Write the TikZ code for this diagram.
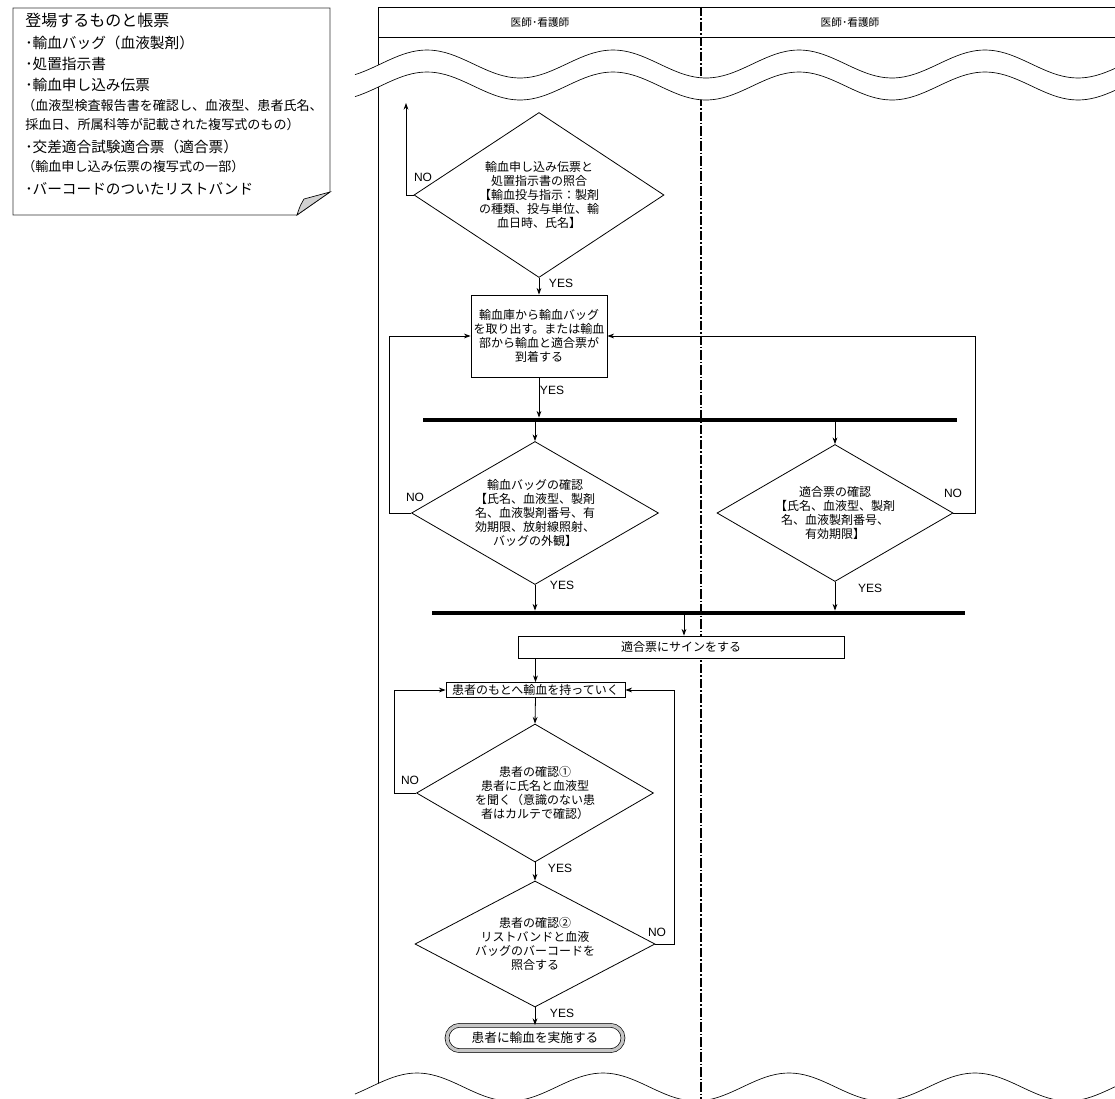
\documentclass[tikz,border=0pt]{standalone}
\usepackage{fontspec}
\setmainfont{Noto Sans CJK JP}
\newfontfamily\latinfont{Liberation Sans}
\usepackage{tikz}
\usetikzlibrary{arrows.meta,positioning,shapes.geometric,shapes.misc}

\tikzset{
  arr/.style={-{Stealth[length=5pt,width=3.6pt]}, line width=0.6pt},
  stepbox/.style={draw, line width=0.6pt, fill=white, align=center, inner sep=1pt,
    font=\fontsize{9pt}{10.5pt}\selectfont},
  check/.style={diamond, aspect=1.7, draw, line width=0.6pt, fill=white, align=center,
    inner sep=0pt, font=\fontsize{9pt}{10.5pt}\selectfont},
  bar/.style={fill=black, inner sep=0pt, minimum height=3.2pt},
  yesno/.style={inner sep=0pt, font=\latinfont\fontsize{9pt}{10pt}\selectfont},
  lane/.style={inner sep=0pt, font=\fontsize{8pt}{8pt}\selectfont},
  bigitem/.style={anchor=west, inner sep=0pt, font=\fontsize{11pt}{12pt}\selectfont},
  smallitem/.style={anchor=west, inner sep=0pt, font=\fontsize{9.8pt}{10pt}\selectfont},
}

\begin{document}
\begin{tikzpicture}[x=0.75pt, y=-0.75pt]
  \useasboundingbox (0,0) rectangle (1115,1099);

  % note with the things and forms
  \draw[line width=0.6pt, draw=black!80] (13,8) -- (330,8) -- (330,192) -- (297,215) -- (13,215) -- cycle;
  \filldraw[line width=0.5pt, fill=gray!35] (297,215) .. controls (300,206) .. (304,199) -- (330,192) -- cycle;
  \node[bigitem, font=\fontsize{12pt}{12pt}\selectfont] (title) at (25,20) {登場するものと帳票};
  \node[bigitem] (item1) at (25,43) {･輸血バッグ（血液製剤）};
  \node[bigitem] (item2) at (25,64) {･処置指示書};
  \node[bigitem] (item3) at (25,85) {･輸血申し込み伝票};
  \node[smallitem] (item3a) at (22,106) {（血液型検査報告書を確認し、血液型、患者氏名、};
  \node[smallitem] (item3b) at (25,125) {採血日、所属科等が記載された複写式のもの）};
  \node[bigitem] (item4) at (25,147) {･交差適合試験適合票（適合票）};
  \node[smallitem] (item4a) at (22,167) {（輸血申し込み伝票の複写式の一部）};
  \node[bigitem] (item5) at (25,189) {･バーコードのついたリストバンド};

  % swimlanes
  \draw[line width=0.6pt] (1115,7) -- (378,7) -- (378,1100);
  \draw[line width=0.6pt] (378,37) -- (1115,37);
  \draw[line width=1.2pt, dash pattern=on 7pt off 1.5pt on 1.2pt off 1.5pt] (701,7) -- (701,1100);
  \node[lane] (lane1) at (540,22) {医師･看護師};
  \node[lane] (lane2) at (850,22) {医師･看護師};

  % breaks
  \fill[white] plot[domain=355:1115, samples=160] (\x,{64-14*cos((\x-427)*1.935484)})
    -- plot[domain=1115:355, samples=160] (\x,{86-14*cos((\x-427)*1.935484)}) -- cycle;
  \draw[line width=0.5pt] plot[domain=355:1115, samples=160] (\x,{64-14*cos((\x-427)*1.935484)});
  \draw[line width=0.5pt] plot[domain=355:1115, samples=160] (\x,{86-14*cos((\x-427)*1.935484)});
  \fill[white] plot[domain=355:1115, samples=160] (\x,{1087-14*cos((\x-417)*1.935484)})
    -- (1115,1110) -- (355,1110) -- cycle;
  \draw[line width=0.5pt] plot[domain=355:1115, samples=160] (\x,{1087-14*cos((\x-417)*1.935484)});

  % flow
  \node[check, minimum width=187.5pt, minimum height=123.75pt] (d1) at (539,195)
    {輸血申し込み伝票と\\処置指示書の照合\\【輸血投与指示：製剤\\の種類、投与単位、輸\\血日時、氏名】};
  \node[stepbox, minimum width=102pt, minimum height=61.5pt] (b1) at (539,336)
    {輸血庫から輸血バッグ\\を取り出す。または輸血\\部から輸血と適合票が\\到着する};
  \node[bar, minimum width=400.5pt] (bar1) at (690,420) {};
  \node[check, minimum width=185.25pt, minimum height=107.25pt] (d2) at (535,513)
    {輸血バッグの確認\\【氏名、血液型、製剤\\名、血液製剤番号、有\\効期限、放射線照射、\\バッグの外観】};
  \node[check, minimum width=177pt, minimum height=102.75pt] (d3) at (835,513)
    {適合票の確認\\【氏名、血液型、製剤\\名、血液製剤番号、\\有効期限】};
  \node[bar, minimum width=399.75pt] (bar2) at (698.5,613) {};
  \node[stepbox, minimum width=244.5pt, minimum height=16.5pt] (b2) at (681,647) {適合票にサインをする};
  \node[stepbox, minimum width=134.25pt, minimum height=11.25pt] (b3) at (535.5,690) {患者のもとへ輸血を持っていく};
  \node[check, minimum width=177.75pt, minimum height=103.5pt] (d4) at (535,793)
    {患者の確認①\\患者に氏名と血液型\\を聞く（意識のない患\\者はカルテで確認）};
  \node[check, minimum width=180pt, minimum height=94.5pt] (d5) at (535,944)
    {患者の確認②\\リストバンドと血液\\バッグのバーコードを\\照合する};
  \node[rounded rectangle, draw, line width=0.5pt, double=gray!45, double distance=2.4pt,
    minimum width=134pt, minimum height=19pt, inner sep=1pt,
    font=\fontsize{9.5pt}{10pt}\selectfont] (done) at (535,1038) {患者に輸血を実施する};

  \coordinate (noend) at (406,103);
  \coordinate (loopL) at (389,0);
  \coordinate (loopR) at (975,0);
  \coordinate (loopL2) at (394,0);
  \coordinate (loopR2) at (674,0);
  \coordinate (signx) at (684,0);

  \draw[arr] (d1.west) -| (noend);
  \draw[arr] (d1.south) -- (b1.north);
  \draw[arr] (b1.south) -- (b1.south |- bar1.north);
  \draw[arr] (bar1.south -| d2.north) -- (d2.north);
  \draw[arr] (bar1.south -| d3.north) -- (d3.north);
  \draw[arr] (d2.west) -- (d2.west -| loopL) |- (b1.west);
  \draw[arr] (d3.east) -- (d3.east -| loopR) |- (b1.east);
  \draw[arr] (d2.south) -- (d2.south |- bar2.north);
  \draw[arr] (d3.south) -- (d3.south |- bar2.north);
  \draw[arr] (bar2.south -| signx) -- (b2.north -| signx);
  \draw[arr] (b2.south -| b3.north) -- (b3.north);
  \draw[arr] (b3.south) -- (d4.north);
  \draw[arr] (d4.west) -- (d4.west -| loopL2) |- (b3.west);
  \draw[arr] (d4.south) -- (d5.north);
  \draw[arr] (d5.east) -- (d5.east -| loopR2) |- (b3.east);
  \draw[arr] (d5.south) -- (done.north);

  % yes / no
  \node[yesno] (no1) at (423,177) {NO};
  \node[yesno] (yes1) at (561,283) {YES};
  \node[yesno] (yes2) at (552,390) {YES};
  \node[yesno] (no2) at (415,497) {NO};
  \node[yesno] (yes3) at (562,585) {YES};
  \node[yesno] (no3) at (953,493) {NO};
  \node[yesno] (yes4) at (870,588) {YES};
  \node[yesno] (no4) at (410,780) {NO};
  \node[yesno] (yes5) at (560,868) {YES};
  \node[yesno] (no5) at (657,932) {NO};
  \node[yesno] (yes6) at (562,1013) {YES};
\end{tikzpicture}
\end{document}
